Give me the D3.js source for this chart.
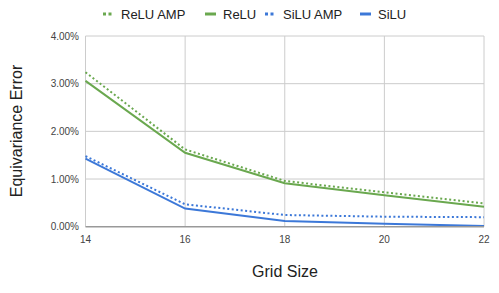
<!DOCTYPE html>
<html><head><meta charset="utf-8">
<script src="https://cdn.jsdelivr.net/npm/d3@7"></script>
<style>body{margin:0;background:#fff}svg{display:block}</style>
</head><body>
<svg id="c" width="499" height="293"></svg>
<script>
const gridSizes = [14, 16, 18, 20, 22];
const reluAmp = [3.24, 1.62, 0.96, 0.72, 0.49];
const relu = [3.06, 1.55, 0.91, 0.66, 0.42];
const siluAmp = [1.48, 0.47, 0.245, 0.21, 0.20];
const silu = [1.43, 0.38, 0.12, 0.06, 0.015];
const yTicks = [0, 1, 2, 3, 4];
const seriesNames = ["ReLU AMP", "ReLU", "SiLU AMP", "SiLU"];

const green = "#6aa84f", blue = "#3c78d8";
const series = [
  {name: seriesNames[0], values: reluAmp, color: green, dotted: true},
  {name: seriesNames[1], values: relu, color: green, dotted: false},
  {name: seriesNames[2], values: siluAmp, color: blue, dotted: true},
  {name: seriesNames[3], values: silu, color: blue, dotted: false}
];

const svg = d3.select("#c");
const font = "Liberation Sans, Arial, sans-serif";
const x = d3.scaleLinear().domain([14, 22]).range([85.5, 484]);
const y = d3.scaleLinear().domain([0, 4]).range([226.7, 36]);

// grid
svg.append("g").selectAll("line").data(yTicks.filter(d => d > 0)).join("line")
  .attr("x1", x(14)).attr("x2", x(22)).attr("y1", d => y(d)).attr("y2", d => y(d))
  .attr("stroke", "#cccccc").attr("stroke-width", 1);
svg.append("g").selectAll("line").data(gridSizes).join("line")
  .attr("x1", d => x(d)).attr("x2", d => x(d)).attr("y1", y(4)).attr("y2", y(0))
  .attr("stroke", "#cccccc").attr("stroke-width", 1);

// y labels
svg.append("g").selectAll("text").data(yTicks).join("text")
  .attr("x", 79).attr("y", d => y(d) + 3.5).attr("text-anchor", "end")
  .attr("font-family", font).attr("font-size", 10).attr("fill", "#444")
  .text(d => d.toFixed(2) + "%");
// x labels
svg.append("g").selectAll("text").data(gridSizes).join("text")
  .attr("x", d => x(d)).attr("y", 243).attr("text-anchor", "middle")
  .attr("font-family", font).attr("font-size", 10).attr("fill", "#444")
  .text(d => d);

// lines
const line = d3.line().x((d, i) => x(gridSizes[i])).y(d => y(d));
series.forEach(s => {
  svg.append("path").datum(s.values).attr("d", line)
    .attr("fill", "none").attr("stroke", s.color).attr("stroke-width", 2)
    .attr("stroke-dasharray", s.dotted ? "2,2.5" : null);
});

// baseline
svg.append("line").attr("x1", x(14)).attr("x2", x(22)).attr("y1", y(0)).attr("y2", y(0))
  .attr("stroke", "#999").attr("stroke-width", 1.5);

// axis titles
svg.append("text").attr("x", 285).attr("y", 277).attr("text-anchor", "middle")
  .attr("font-family", font).attr("font-size", 16).attr("fill", "#222").text("Grid Size");
svg.append("text").attr("transform", "translate(22,131) rotate(-90)").attr("text-anchor", "middle")
  .attr("font-family", font).attr("font-size", 16).attr("fill", "#222").text("Equivariance Error");

// legend
const legX = [103, 205, 265, 360];
const lg = svg.append("g");
series.forEach((s, i) => {
  lg.append("line").attr("x1", legX[i]).attr("x2", legX[i] + 11).attr("y1", 14).attr("y2", 14)
    .attr("stroke", s.color).attr("stroke-width", 3)
    .attr("stroke-dasharray", s.dotted ? "3,2.5" : null);
  lg.append("text").attr("x", legX[i] + 18).attr("y", 18.5)
    .attr("font-family", font).attr("font-size", 13).attr("fill", "#222").text(s.name);
});
</script>
</body></html>
